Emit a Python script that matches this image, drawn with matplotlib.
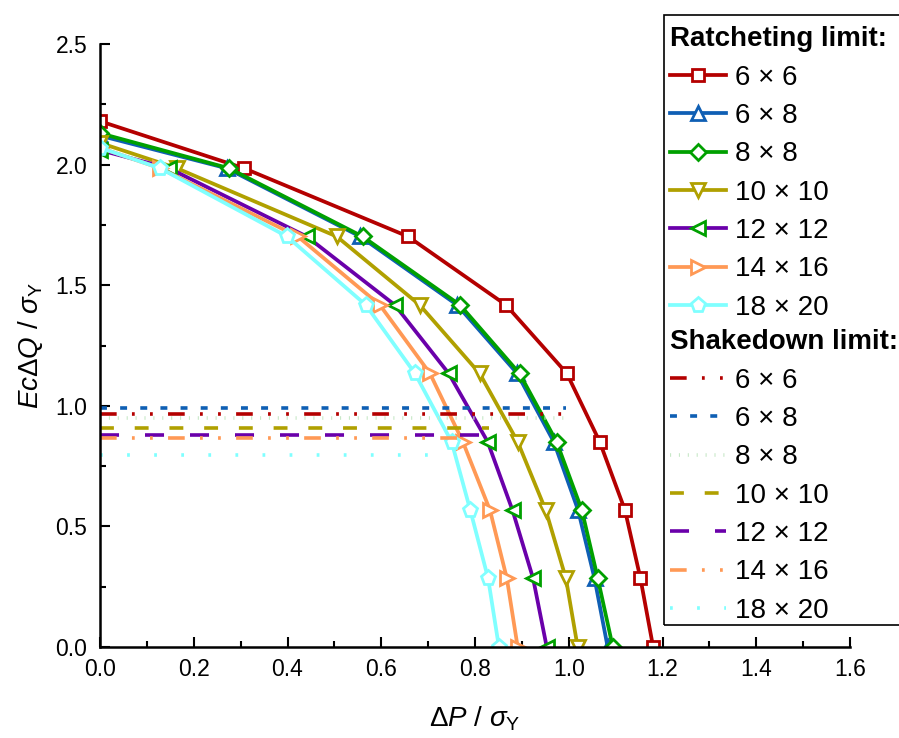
import matplotlib
matplotlib.use("Agg")
from matplotlib import pyplot as plt
from matplotlib.patches import Rectangle

plt.rcParams['font.family'] = ['Liberation Sans', 'DejaVu Sans']
plt.rcParams['mathtext.fontset'] = 'custom'
plt.rcParams['mathtext.rm'] = 'Liberation Sans'
plt.rcParams['mathtext.it'] = 'Liberation Sans:italic'
plt.rcParams['lines.scale_dashes'] = False

# 网格尺寸
sizes = ['6 × 6', '6 × 8', '8 × 8', '10 × 10', '12 × 12', '14 × 16', '18 × 20']

# 棘轮极限曲线的纵坐标（各曲线共用）
q_levels = [1.985, 1.702, 1.418, 1.134, 0.851, 0.567, 0.284, 0.0]
q_start = [2.18, 2.12, 2.13, 2.09, 2.06, 2.07, 2.07]

p_6x6 = [0.0, 0.307, 0.657, 0.866, 0.996, 1.066, 1.120, 1.153, 1.180]
p_6x8 = [0.0, 0.270, 0.555, 0.762, 0.890, 0.968, 1.020, 1.055, 1.083]
p_8x8 = [0.0, 0.275, 0.560, 0.768, 0.895, 0.974, 1.028, 1.062, 1.094]
p_10x10 = [0.0, 0.164, 0.505, 0.682, 0.810, 0.891, 0.951, 0.994, 1.019]
p_12x12 = [0.0, 0.147, 0.441, 0.629, 0.744, 0.827, 0.880, 0.924, 0.953]
p_14x16 = [0.0, 0.128, 0.422, 0.597, 0.704, 0.774, 0.832, 0.868, 0.891]
p_18x20 = [0.0, 0.128, 0.399, 0.567, 0.672, 0.750, 0.790, 0.828, 0.851]
ratchet_p = [p_6x6, p_6x8, p_8x8, p_10x10, p_12x12, p_14x16, p_18x20]

# 安定极限（水平线）：高度与终点
shake_q = [0.964, 0.992, 0.951, 0.907, 0.880, 0.866, 0.794]
shake_end = [1.01, 0.995, 1.0, 0.83, 0.817, 0.78, 0.714]

colors = ['#B40000', '#0F5FB4', '#00A000', '#B0A000', '#6A00AA', '#FF9955', '#80FFFF']
marker_edge = ['#B40000', '#0F5FB4', '#00A000', '#B0A000', '#00A000', '#FF9955', '#80FFFF']
markers = ['s', '^', 'D', 'v', '<', '>', 'p']
msizes = [8.5, 10, 8.5, 10, 10, 10, 11]
shake_colors = ['#B40000', '#0F5FB4', '#C8E8C8', '#B0A000', '#6A00AA', '#FF9955', '#80FFFF']
shake_dashes = [(0, (12, 11, 2, 11, 2, 11)), (0, (5, 9.5)), (0, (0.8, 5.6)), (0, (10, 15)),
                (0, (13.7, 18.7)), (0, (12, 11, 2, 11, 2, 11)), (0, (2, 17.5))]

fig = plt.figure(figsize=(8.99, 7.38), dpi=100)
ax = fig.add_axes([100 / 899, 91 / 738, 750 / 899, 603 / 738])

ratchet_handles = []
for i in range(len(sizes)):
    ys = [q_start[i]] + q_levels
    h, = ax.plot(ratchet_p[i], ys, color=colors[i], lw=2.7, marker=markers[i],
                 ms=msizes[i], mfc='white', mec=marker_edge[i], mew=2.0, label=sizes[i])
    ratchet_handles.append(h)

shake_handles = []
for i in range(len(sizes)):
    h, = ax.plot([0, shake_end[i]], [shake_q[i], shake_q[i]], color=shake_colors[i],
                 lw=2.6, linestyle=shake_dashes[i], label=sizes[i])
    shake_handles.append(h)

ax.set_xlim(0, 1.6)
ax.set_ylim(0, 2.5)
ax.set_xticks([0.0, 0.2, 0.4, 0.6, 0.8, 1.0, 1.2, 1.4, 1.6])
ax.set_xticks([0.1, 0.3, 0.5, 0.7, 0.9, 1.1, 1.3, 1.5], minor=True)
ax.set_yticks([0.0, 0.5, 1.0, 1.5, 2.0, 2.5])
ax.set_yticks([0.25, 0.75, 1.25, 1.75, 2.25], minor=True)
ax.tick_params(which='both', direction='in', width=1.5, labelsize=16.5)
ax.tick_params(which='major', length=7)
ax.tick_params(which='minor', length=4)
ax.tick_params(axis='x', which='major', pad=8)
ax.tick_params(axis='y', which='major', pad=9)
ax.spines['top'].set_visible(False)
ax.spines['right'].set_visible(False)
ax.spines['left'].set_linewidth(1.8)
ax.spines['bottom'].set_linewidth(1.8)

ax.set_xlabel(r'$\Delta P$ / $\sigma_\mathrm{Y}$', fontsize=20, labelpad=17)
ax.set_ylabel(r'$Ec\Delta Q$ / $\sigma_\mathrm{Y}$', fontsize=20, labelpad=8)

# 图例：两组，外加一个边框
leg_kw = dict(frameon=False, fontsize=20, handlelength=2.0, handletextpad=0.32,
              labelspacing=0.445, borderaxespad=0, borderpad=0.15, alignment='left',
              title_fontproperties={'weight': 'bold', 'size': 20})
leg1 = fig.legend(handles=ratchet_handles, title='Ratcheting limit:', loc='upper left',
                  bbox_to_anchor=(666 / 899, 1 - 22 / 738), **leg_kw)
leg2 = fig.legend(handles=shake_handles, title='Shakedown limit:', loc='upper left',
                  bbox_to_anchor=(666 / 899, 1 - 325 / 738), **leg_kw)
fig.patches.append(Rectangle((664 / 899, 1 - 625 / 738), 0.3, 610 / 738, fill=False,
                             lw=1.2, edgecolor='black', transform=fig.transFigure))

fig.savefig('out.png', dpi=100)
